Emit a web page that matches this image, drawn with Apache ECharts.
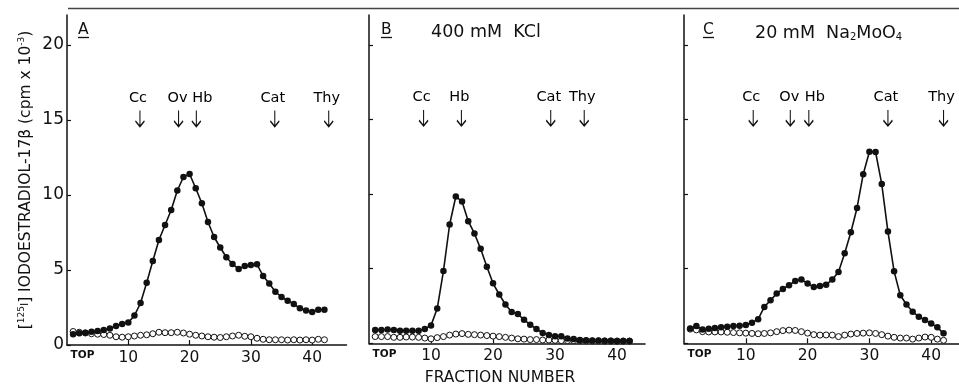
<!DOCTYPE html>
<html>
<head>
<meta charset="utf-8">
<script src="https://cdn.jsdelivr.net/npm/echarts@6/dist/echarts.min.js"></script>
<style>
  html, body { margin: 0; padding: 0; background: #fff; }
  #chart { width: 959px; height: 387px; }
</style>
</head>
<body>
<div id="chart"></div>
<script>
// Sucrose gradient fraction numbers (top of gradient = fraction 1)
const fractions = [1,2,3,4,5,6,7,8,9,10,11,12,13,14,15,16,17,18,19,20,21,
                   22,23,24,25,26,27,28,29,30,31,32,33,34,35,36,37,38,39,40,41,42];

// Panel A: control
const totalA = [0.71,0.78,0.82,0.89,0.93,1.0,1.1,1.27,1.4,1.5,1.96,2.8,4.15,5.6,7.0,8.0,9.0,10.3,11.2,11.4,10.45,
                9.45,8.2,7.2,6.5,5.85,5.4,5.07,5.27,5.33,5.38,4.6,4.1,3.55,3.2,2.95,2.73,2.45,2.3,2.2,2.35,2.35];
const blankA = [0.9,0.85,0.8,0.75,0.72,0.7,0.65,0.55,0.52,0.55,0.6,0.65,0.68,0.75,0.85,0.82,0.82,0.85,0.8,0.72,0.65,
                0.6,0.55,0.52,0.5,0.55,0.6,0.65,0.58,0.55,0.45,0.38,0.35,0.35,0.35,0.33,0.35,0.33,0.35,0.33,0.38,0.35];

// Panel B: 400 mM KCl
const totalB = [0.89,0.89,0.93,0.89,0.84,0.84,0.84,0.84,0.96,1.2,2.33,4.84,7.96,9.84,9.5,8.18,7.36,6.33,5.13,4.02,3.27,
                2.6,2.1,1.96,1.58,1.24,0.96,0.69,0.56,0.47,0.47,0.33,0.29,0.22,0.2,0.18,0.18,0.17,0.17,0.16,0.16,0.15];
const blankB = [0.45,0.45,0.45,0.4,0.4,0.42,0.42,0.4,0.35,0.3,0.38,0.45,0.55,0.62,0.65,0.6,0.58,0.55,0.52,0.48,0.45,
                0.4,0.35,0.3,0.28,0.25,0.25,0.22,0.22,0.2,0.18,0.18,0.18,0.17,0.16,0.16,0.16,0.15,0.15,0.15,0.15,0.15];

// Panel C: 20 mM Na2MoO4
const totalC = [1.0,1.16,0.93,0.98,1.02,1.07,1.11,1.16,1.18,1.22,1.38,1.62,2.44,2.89,3.33,3.64,3.89,4.18,4.27,4.0,3.78,
                3.84,3.93,4.27,4.78,6.04,7.44,9.07,11.33,12.84,12.82,10.67,7.49,4.82,3.22,2.6,2.11,1.78,1.56,1.33,1.07,0.67];
const blankC = [0.95,0.9,0.78,0.76,0.76,0.76,0.74,0.72,0.7,0.68,0.66,0.64,0.66,0.7,0.78,0.85,0.88,0.86,0.78,0.68,0.58,
                0.55,0.56,0.55,0.45,0.55,0.62,0.66,0.68,0.7,0.66,0.58,0.48,0.4,0.35,0.35,0.28,0.35,0.42,0.4,0.28,0.2];

// Sedimentation markers: name and fraction where each peaks
const markerNames = ['Cc', 'Ov', 'Hb', 'Cat', 'Thy'];
const markerFracA = [11.9, 18.2, 21.1, 33.9, 42.7];
const markerNamesB = ['Cc', 'Hb', 'Cat', 'Thy'];
const markerFracB = [8.8, 14.9, 29.3, 34.7];
const markerFracC = [11.2, 17.2, 20.2, 33.0, 42.0];
const markerLevel = 15.1;

const yTicks = [0, 5, 10, 15, 20];
const xTicks = [0, 10, 20, 30, 40];

const FONT = 'DejaVu Sans';
const INK = '#111';

const chart = echarts.init(document.getElementById('chart'), null, { renderer: 'canvas' });

function pairs(ys) { return fractions.map((f, i) => [f, ys[i]]); }

const grids = [
  { left: 67,  top: 15, width: 279.5, height: 330,   outerBoundsMode: 'none', containLabel: false },
  { left: 369, top: 15, width: 276,   height: 328.3, outerBoundsMode: 'none', containLabel: false },
  { left: 684, top: 15, width: 275,   height: 328.3, outerBoundsMode: 'none', containLabel: false }
];
const xMax = [45.6, 44.5, 44.5];

const xAxes = grids.map((g, i) => ({
  type: 'value', gridIndex: i, min: 0, max: xMax[i],
  axisLine: { lineStyle: { color: INK, width: 1.5 } },
  axisTick: { inside: true, length: 5, lineStyle: { color: INK, width: 1.2 }, customValues: [10, 20, 30, 40] },
  splitLine: { show: false },
  axisLabel: {
    customValues: xTicks, margin: 5, color: INK, fontFamily: FONT, fontSize: 15.5,
    formatter: v => v === 0 ? '{top|TOP}' : String(v),
    rich: { top: { fontSize: 10.5, fontWeight: 'bold', fontFamily: FONT, color: INK, padding: [0, 0, 3, 31] } }
  },
  name: i === 1 ? 'FRACTION NUMBER' : '',
  nameLocation: 'middle', nameGap: 27,
  nameTextStyle: { fontFamily: FONT, fontSize: 15.5, color: INK, padding: [0, 0, 0, -14] }
}));

const yAxes = grids.map((g, i) => ({
  type: 'value', gridIndex: i, min: 0, max: 22,
  axisLine: { lineStyle: { color: INK, width: 1.5 } },
  axisTick: { inside: true, length: 4, lineStyle: { color: INK, width: 1.2 }, customValues: yTicks },
  splitLine: { show: false },
  axisLabel: {
    show: i === 0, customValues: yTicks, margin: 3, color: INK, fontFamily: FONT, fontSize: 17
  },
  name: i === 0 ? '[{sup|125}{i|I}] IODOESTRADIOL-17\u03B2 (cpm x 10{sup|-3})' : '',
  nameLocation: 'middle', nameRotate: 90, nameGap: 33,
  nameTextStyle: {
    fontFamily: FONT, fontSize: 15.5, color: INK,
    rich: {
      sup: { fontSize: 9, fontFamily: FONT, color: INK, verticalAlign: 'top', padding: [0, 0, 8, 0] },
      i: { fontSize: 11, fontFamily: FONT, color: INK }
    }
  }
}));

function totalSeries(i, ys) {
  return {
    type: 'line', xAxisIndex: i, yAxisIndex: i, data: pairs(ys), z: 3,
    symbol: 'circle', symbolSize: 6.5,
    itemStyle: { color: INK },
    lineStyle: { color: INK, width: 1.6 },
    silent: true, animation: false
  };
}
function blankSeries(i, ys) {
  return {
    type: 'line', xAxisIndex: i, yAxisIndex: i, data: pairs(ys), z: 2,
    symbol: 'circle', symbolSize: 6, showAllSymbol: true,
    itemStyle: { color: '#fff', borderColor: INK, borderWidth: 1 },
    lineStyle: { color: INK, width: 0.8 },
    silent: true, animation: false
  };
}
const ARROW = 'path://M5,0 L5,20 M0,13 L5,20 L10,13';
function markerSeries(i, names, fracs) {
  const hasOv = names.indexOf('Ov') >= 0;
  return {
    type: 'scatter', xAxisIndex: i, yAxisIndex: i, z: 4,
    data: fracs.map((f, k) => {
      const item = { value: [f, markerLevel], name: names[k] };
      // keep the "Ov" and "Hb" captions apart where their arrows sit close together
      if (hasOv && names[k] === 'Hb') item.label = { offset: [6, 0] };
      if (hasOv && names[k] === 'Ov') item.label = { offset: [-1, 0] };
      return item;
    }),
    symbol: ARROW, symbolSize: [9, 16], symbolKeepAspect: false,
    itemStyle: { color: '#fff', opacity: 1, borderColor: INK, borderWidth: 1.4 },
    label: {
      show: true, position: 'top', distance: 4, formatter: p => p.name,
      color: '#000', opacity: 1, textBorderWidth: 0, fontFamily: FONT, fontSize: 14.5, offset: [-2, 0]
    },
    silent: true, animation: false
  };
}

const labelText = (x, y, text, size) => ({
  type: 'text', x, y,
  style: { text, fontFamily: FONT, fontSize: size, fill: INK, textVerticalAlign: 'middle' }
});
const underline = (x1, x2, y) => ({
  type: 'line', shape: { x1, y1: y, x2, y2: y }, style: { stroke: INK, lineWidth: 1.3 }
});

chart.setOption({
  backgroundColor: '#fff',
  animation: false,
  grid: grids,
  xAxis: xAxes,
  yAxis: yAxes,
  series: [
    blankSeries(0, blankA), totalSeries(0, totalA), markerSeries(0, markerNames, markerFracA),
    blankSeries(1, blankB), totalSeries(1, totalB), markerSeries(1, markerNamesB, markerFracB),
    blankSeries(2, blankC), totalSeries(2, totalC), markerSeries(2, markerNames, markerFracC)
  ],
  graphic: [
    { type: 'line', shape: { x1: 68, y1: 8.5, x2: 959, y2: 8.5 }, style: { stroke: '#444', lineWidth: 1.5 } },
    labelText(78, 30, 'A', 15.5), underline(78, 89, 37.5),
    labelText(381, 30, 'B', 15.5), underline(381, 392, 37.5),
    labelText(703, 30, 'C', 15.5), underline(703, 714, 37.5),
    labelText(431, 32, '400 mM  KCl', 17.5),
    {
      type: 'text', x: 755, y: 33,
      style: {
        text: '20 mM  Na{s|2}MoO{s|4}', fontFamily: FONT, fontSize: 17.5, fill: INK, textVerticalAlign: 'middle',
        rich: { s: { fontSize: 10, fontFamily: FONT, fill: INK, padding: [8, 0, 0, 0] } }
      }
    }
  ]
});
</script>
</body>
</html>
